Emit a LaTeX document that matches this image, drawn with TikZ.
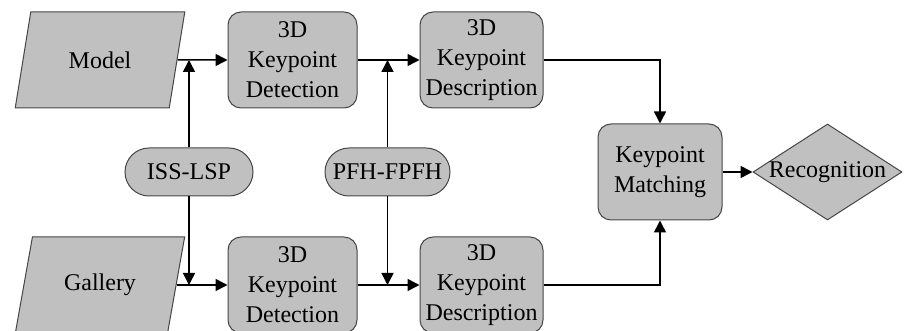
\documentclass[tikz,border=0pt]{standalone}
\usepackage{fontspec}
\setmainfont{Liberation Serif}
\usetikzlibrary{shapes.geometric,arrows.meta}
\definecolor{boxgray}{RGB}{192,192,192}
\definecolor{edgegray}{RGB}{70,70,70}
\begin{document}
\begin{tikzpicture}[x=0.5pt,y=-0.5pt,
    font=\rmfamily\fontsize{12}{15}\selectfont,
    base/.style={draw=edgegray,fill=boxgray,line width=0.5pt,inner sep=0pt,align=center},
    io/.style={base,trapezium,trapezium left angle=67.4,trapezium right angle=112.6,
      trapezium stretches=true,minimum width=85pt,minimum height=48pt},
    procbox/.style={base,rectangle,rounded corners=6.5pt,minimum height=48pt},
    param/.style={base,rectangle,rounded corners=12pt,minimum height=24pt},
    decision/.style={base,diamond,minimum width=74.5pt,minimum height=48pt},
    arr/.style={-{Triangle[length=6pt,width=6pt]},line width=0.75pt}]
    \useasboundingbox (0,0) rectangle (922,331);

    % Inputs
    \node[io] (model) at (100,60) {Model};
    \node[io] (gallery) at (100,285) {Gallery};

    % Processing boxes
    \node[procbox,minimum width=64.5pt] (det1) at (292.5,60) {3D\\Keypoint\\Detection};
    \node[procbox,minimum width=64.5pt] (det2) at (292.5,285) {3D\\Keypoint\\Detection};
    \node[procbox,minimum width=61.5pt] (desc1) at (481.5,60) {3D\\Keypoint\\Description};
    \node[procbox,minimum width=61.5pt] (desc2) at (481.5,285) {3D\\Keypoint\\Description};
    \node[procbox,minimum width=62pt] (match) at (660,172) {Keypoint\\Matching};
    \node[decision,label=center:Recognition] (recog) at (827.5,172) {};

    % Methods
    \node[param,minimum width=64pt] (iss) at (189,172) {ISS-LSP};
    \node[param,minimum width=62.5pt] (pfh) at (387.5,172) {PFH-FPFH};

    % Arrows
    \draw[arr] (model) -- (det1);
    \draw[arr] (gallery) -- (det2);
    \draw[arr] (det1) -- (desc1);
    \draw[arr] (det2) -- (desc2);
    \draw[arr] (iss) -- (iss |- det1);
    \draw[arr] (iss) -- (iss |- det2);
    \draw[arr] (pfh) -- (pfh |- desc1);
    \draw[arr] (pfh) -- (pfh |- desc2);
    \draw[arr] (desc1) -| (match);
    \draw[arr] (desc2) -| (match);
    \draw[arr] (match) -- (recog);
\end{tikzpicture}
\end{document}
